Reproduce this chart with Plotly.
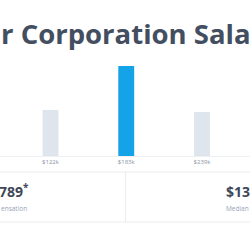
import plotly.graph_objects as go

# ---- data ----
categories = ["$122k", "$183k", "$239k"]
values = [46, 90, 44]
bar_colors = ["#dfe5ec", "#14a3e6", "#dfe5ec"]

title_text = "r Corporation Sala"
stat_left = "789<sup>*</sup>"
stat_left_label = "ensation"
stat_right = "$13"
stat_right_label = "Median"

W, H = 250, 250


def py(pix):
    """pixel-from-top -> paper y"""
    return (H - pix) / H


def px(pix):
    return pix / W


fig = go.Figure(
    go.Bar(
        x=categories,
        y=values,
        marker=dict(color=bar_colors, line=dict(width=0)),
        width=0.21,
        hoverinfo="skip",
    )
)

# x: category 0 at 50.5px, spacing 75.75px
slope = 75.75
x0 = -50.5 / slope
x1 = (W - 50.5) / slope

fig.update_layout(
    width=W,
    height=H,
    margin=dict(l=0, r=0, t=0, b=0),
    paper_bgcolor="white",
    plot_bgcolor="white",
    showlegend=False,
    xaxis=dict(
        range=[x0, x1],
        domain=[0, 1],
        showgrid=False,
        zeroline=False,
        showline=True,
        linecolor="#eef0f4",
        linewidth=1,
        ticks="",
        tickfont=dict(family="Open Sans", size=6, color="#8a94a3"),
        fixedrange=True,
    ),
    yaxis=dict(
        range=[0, 90],
        domain=[py(156), py(66)],
        visible=False,
        fixedrange=True,
    ),
)

annotations = [
    dict(text=title_text, x=px(-1), y=py(33), xref="paper", yref="paper",
         xanchor="left", yanchor="middle", showarrow=False,
         font=dict(family="Open Sans", size=27.5, color="#434e60", weight=700)),
    dict(text=stat_left, x=px(-3), y=py(191), xref="paper", yref="paper",
         xanchor="left", yanchor="middle", showarrow=False,
         font=dict(family="Open Sans", size=14, color="#3d4757", weight=700)),
    dict(text=stat_left_label, x=px(-1), y=py(208), xref="paper", yref="paper",
         xanchor="left", yanchor="middle", showarrow=False,
         font=dict(family="Open Sans", size=6.5, color="#95a4b6")),
    dict(text=stat_right, x=px(224), y=py(191), xref="paper", yref="paper",
         xanchor="left", yanchor="middle", showarrow=False,
         font=dict(family="Open Sans", size=14, color="#3d4757", weight=700)),
    dict(text=stat_right_label, x=px(224), y=py(208), xref="paper", yref="paper",
         xanchor="left", yanchor="middle", showarrow=False,
         font=dict(family="Open Sans", size=6.5, color="#95a4b6")),
]
fig.update_layout(annotations=annotations)

line_col = "#e9ecf0"
shapes = [
    dict(type="line", xref="paper", yref="paper", x0=0, x1=1, y0=py(172), y1=py(172),
         line=dict(color=line_col, width=1)),
    dict(type="line", xref="paper", yref="paper", x0=px(125.5), x1=px(125.5),
         y0=py(172), y1=py(222), line=dict(color=line_col, width=1)),
    dict(type="line", xref="paper", yref="paper", x0=0, x1=1, y0=py(222), y1=py(222),
         line=dict(color=line_col, width=1)),
]
fig.update_layout(shapes=shapes)

fig.write_html("out.html", config=dict(displayModeBar=False))
